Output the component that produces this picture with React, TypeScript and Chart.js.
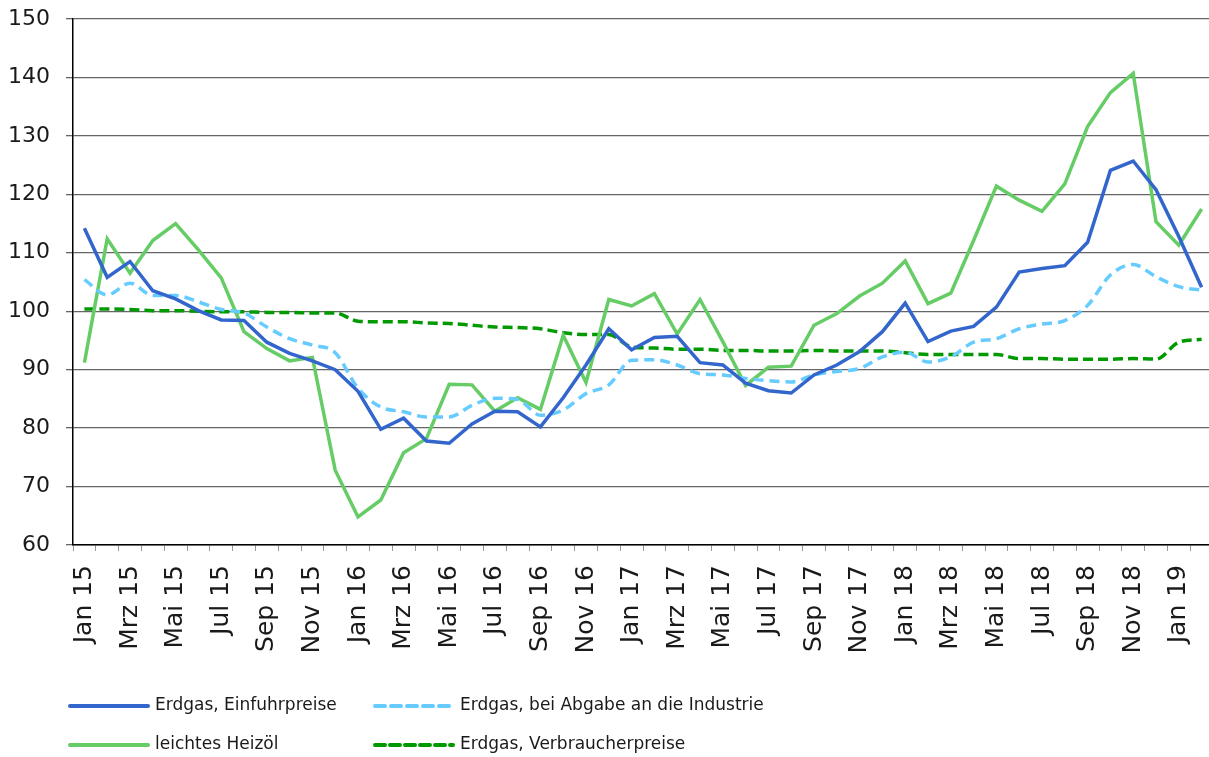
import React, { useEffect, useRef } from "react";
import { Chart, registerables } from "chart.js";

Chart.register(...registerables);

const months = ["Jan", "Feb", "Mrz", "Apr", "Mai", "Jun", "Jul", "Aug", "Sep", "Okt", "Nov", "Dez"];
const years = ["15", "16", "17", "18", "19"];
const categories: string[] = [];
years.forEach((y) => months.forEach((m) => categories.push(m + " " + y)));
const labels = categories.slice(0, 50); // Jan 15 .. Feb 19

const einfuhrpreise = [
  114.2, 105.8, 108.5, 103.5, 102.1, 100.1, 98.5, 98.4, 94.7, 92.8,
  91.5, 90.0, 86.3, 79.8, 81.7, 77.8, 77.4, 80.7, 82.9, 82.8,
  80.2, 85.2, 90.8, 97.0, 93.4, 95.5, 95.7, 91.2, 90.8, 87.7,
  86.4, 86.0, 89.1, 90.8, 93.1, 96.5, 101.4, 94.8, 96.6, 97.4,
  100.7, 106.7, 107.3, 107.8, 111.8, 124.1, 125.7, 120.8, 112.8, 104.1,
];
const industrie = [
  105.4, 102.8, 104.8, 102.7, 102.7, 101.6, 100.3, 99.7, 97.3, 95.3,
  94.2, 92.9, 86.8, 83.6, 82.8, 81.9, 81.9, 83.9, 85.1, 84.9,
  82.2, 83.1, 85.9, 87.4, 91.6, 91.7, 90.8, 89.3, 89.1, 88.5,
  88.1, 87.9, 89.1, 89.7, 90.2, 92.2, 93.0, 91.3, 92.2, 94.7,
  95.3, 97.0, 97.8, 98.4, 101.0, 106.2, 108.0, 105.9, 104.2, 103.6,
];
const heizoel = [
  91.2, 112.4, 106.5, 112.1, 115.0, 110.5, 105.7, 96.5, 93.6, 91.5,
  92.1, 72.8, 64.8, 67.7, 75.8, 78.2, 87.5, 87.4, 82.9, 85.2,
  83.2, 95.9, 87.8, 102.0, 100.9, 103.0, 96.1, 102.0, 94.8, 87.3,
  90.4, 90.6, 97.6, 99.6, 102.6, 104.8, 108.6, 101.3, 103.1, 112.1,
  121.4, 119.0, 117.1, 121.8, 131.6, 137.4, 140.7, 115.3, 111.3, 117.5,
];
const verbraucher = [
  100.4, 100.4, 100.3, 100.1, 100.1, 100.0, 99.9, 99.9, 99.8, 99.8,
  99.7, 99.7, 98.3, 98.2, 98.2, 98.0, 97.9, 97.6, 97.3, 97.2,
  97.0, 96.3, 96.0, 96.0, 93.9, 93.7, 93.5, 93.5, 93.3, 93.3,
  93.2, 93.2, 93.3, 93.2, 93.2, 93.2, 92.9, 92.6, 92.6, 92.6,
  92.6, 91.9, 91.9, 91.8, 91.8, 91.8, 91.9, 91.8, 94.7, 95.2,
];

const seriesNames = [
  "Erdgas, Einfuhrpreise",
  "Erdgas, bei Abgabe an die Industrie",
  "leichtes Heizöl",
  "Erdgas, Verbraucherpreise",
];

const FONT = "'DejaVu Sans', sans-serif";

const legendPlugin = {
  id: "gridLegend",
  afterDraw(chart: any) {
    const ctx = chart.ctx as CanvasRenderingContext2D;
    const spots = [
      { x: 70, y: 706 },
      { x: 375, y: 706 },
      { x: 70, y: 745 },
      { x: 375, y: 745 },
    ];
    ctx.save();
    chart.data.datasets.forEach((ds: any, k: number) => {
      const p = spots[k];
      ctx.beginPath();
      ctx.strokeStyle = ds.borderColor;
      ctx.lineWidth = 4;
      ctx.lineCap = "round";
      ctx.setLineDash(ds.borderDash || []);
      ctx.moveTo(p.x, p.y);
      ctx.lineTo(p.x + 78, p.y);
      ctx.stroke();
      ctx.setLineDash([]);
      ctx.fillStyle = "#1a1a1a";
      ctx.font = "17px " + FONT;
      ctx.textBaseline = "middle";
      ctx.textAlign = "left";
      ctx.fillText(ds.label, p.x + 85, p.y);
    });
    ctx.restore();
  },
};

export default function App() {
  const canvasRef = useRef<HTMLCanvasElement | null>(null);

  useEffect(() => {
    const canvas = canvasRef.current;
    if (!canvas) return;
    const chart = new Chart(canvas, {
      type: "line",
      data: {
        labels,
        datasets: [
          {
            label: seriesNames[0],
            data: einfuhrpreise,
            borderColor: "#3366cc",
            borderWidth: 3.5,
            pointRadius: 0,
            tension: 0,
          },
          {
            label: seriesNames[1],
            data: industrie,
            borderColor: "#66ccff",
            borderWidth: 3.5,
            borderDash: [10, 6],
            pointRadius: 0,
            cubicInterpolationMode: "monotone",
          },
          {
            label: seriesNames[2],
            data: heizoel,
            borderColor: "#66cc66",
            borderWidth: 3.5,
            pointRadius: 0,
            tension: 0,
          },
          {
            label: seriesNames[3],
            data: verbraucher,
            borderColor: "#009900",
            borderWidth: 3.5,
            borderDash: [10, 5],
            pointRadius: 0,
            cubicInterpolationMode: "monotone",
          },
        ],
      },
      options: {
        animation: false,
        responsive: false,
        devicePixelRatio: 1,
        layout: { padding: { top: 19, bottom: 82, left: 0, right: 1 } },
        plugins: {
          legend: { display: false },
          tooltip: { enabled: false },
        },
        scales: {
          x: {
            type: "category",
            offset: true,
            afterFit: (scale: any) => {
              scale.height = 130;
              scale.paddingLeft = 0;
              scale.paddingRight = 0;
            },
            grid: {
              display: true,
              drawOnChartArea: false,
              drawTicks: true,
              tickLength: 6,
              color: "#999999",
              lineWidth: 1,
              offset: true,
            },
            border: { display: true, color: "#000000", width: 1.5 },
            ticks: {
              autoSkip: false,
              maxRotation: 90,
              minRotation: 90,
              padding: 14,
              color: "#1a1a1a",
              font: { family: FONT, size: 25 },
              callback: (_v: any, i: number) => (i % 2 === 0 ? labels[i] : ""),
            },
          },
          y: {
            min: 60,
            max: 150,
            afterFit: (scale: any) => {
              scale.width = 73;
              scale.paddingTop = 0;
              scale.paddingBottom = 0;
            },
            grid: {
              color: "#666666",
              lineWidth: 1.3,
              tickLength: 7,
              drawTicks: true,
            },
            border: { display: true, color: "#000000", width: 1.5 },
            ticks: {
              stepSize: 10,
              padding: 16,
              color: "#1a1a1a",
              font: { family: FONT, size: 22 },
            },
          },
        },
      },
      plugins: [legendPlugin],
    } as any);
    return () => chart.destroy();
  }, []);

  return (
    <div
      style={{
        position: "fixed",
        left: 0,
        top: 0,
        width: 1209,
        height: 757,
        overflow: "hidden",
        background: "#ffffff",
      }}
    >
      <canvas ref={canvasRef} width={1214} height={757} style={{ display: "block" }} />
    </div>
  );
}
